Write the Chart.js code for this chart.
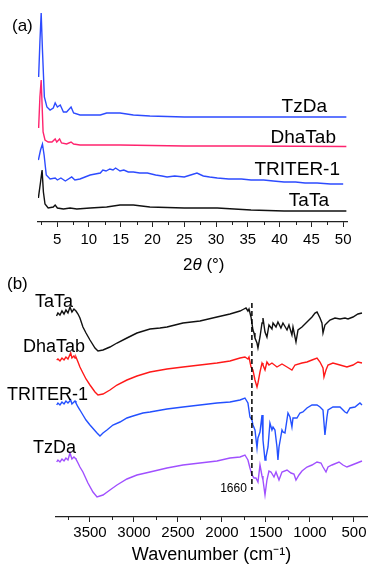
<!DOCTYPE html>
<html>
<head>
<meta charset="utf-8">
<script src="https://cdn.jsdelivr.net/npm/chart.js@4.4.0/dist/chart.umd.min.js"></script>
<style>
  html, body { margin: 0; padding: 0; background: #fff; }
  body { width: 368px; height: 567px; position: relative; overflow: hidden; }
  canvas { position: absolute; left: 0; }
  #xrd { top: 0; }
  #ftir { top: 270px; }
</style>
</head>
<body>
<canvas id="xrd" width="368" height="275"></canvas>
<canvas id="ftir" width="368" height="297"></canvas>
<script>
// (a) PXRD, stacked, intensity in a.u.
var xrdTicks = [5, 10, 15, 20, 25, 30, 35, 40, 45, 50];
var xrdMinor = [2.5, 7.5, 12.5, 17.5, 22.5, 27.5, 32.5, 37.5, 42.5, 47.5];

var tzdaXrdX = [2.1, 2.3, 2.5, 2.7, 3.0, 3.4, 3.9, 4.4, 4.7, 5.05, 5.5, 6.0, 6.5, 7.2, 7.6, 8.6, 10, 11.8, 12.8, 14.9, 17, 19.6, 25, 30, 35, 40, 45, 50.5];
var tzdaXrdY = [145, 180, 209, 172, 125, 115, 112, 114, 119, 115, 117, 110, 110, 115, 109, 107, 107, 107, 109, 109, 107, 106, 105, 105, 105, 105, 105, 105];

var dhaXrdX = [2.1, 2.3, 2.5, 2.8, 3.1, 3.6, 4.2, 4.7, 4.95, 5.4, 5.7, 6.5, 7.2, 7.6, 8.6, 14.9, 25, 35, 50.5];
var dhaXrdY = [94, 125, 142, 90, 82, 80, 80, 83, 80, 83, 79, 78, 80, 78, 77, 77, 76, 76, 75.5];

var triXrdX = [2.06, 2.4, 2.7, 2.96, 3.3, 3.9, 4.7, 5.05, 5.6, 6.3, 7.3, 7.8, 8.6, 9.4, 10.2, 11.0, 11.8, 12.2, 12.7, 13.3, 13.8, 14.2, 14.9, 15.5, 16.2, 17, 18, 19.2, 20.5, 21.5, 22.3, 23.5, 25, 26, 27, 28, 29, 30.2, 32, 34, 35.5, 37.5, 39, 40.7, 42.5, 44, 45.9, 48, 50];
var triXrdY = [62, 72, 78, 67, 47, 43, 44, 42, 44, 41, 45, 42, 43, 45, 47, 48, 49, 52, 51, 53, 52, 54, 51, 52, 50, 50, 49, 49, 47, 46, 45, 46, 45, 47, 49, 46, 45, 44, 43, 43, 42, 42, 41, 40, 40, 39, 39, 38, 38];

var tataXrdX = [2.06, 2.4, 2.64, 2.85, 3.1, 3.6, 4.4, 4.7, 5.05, 6.0, 7.05, 8.1, 10.2, 12.8, 14.9, 17, 19.6, 25, 30.2, 35.5, 40.7, 50.5];
var tataXrdY = [24, 40, 52, 30, 18, 14, 15, 17, 14, 13, 14, 13, 14, 15, 17, 17, 15, 14, 14, 12, 11, 11];

// (b) FTIR, stacked, transmittance in a.u.
var irTicks = [500, 1000, 1500, 2000, 2500, 3000, 3500];
var irMinor = [750, 1250, 1750, 2250, 2750, 3250, 3750];
var markerWn = 1660;

var tataIrX = [3880,3864,3841,3818,3795,3773,3750,3727,3705,3682,3659,3636,3614,3580,3545,3500,3443,3409,3352,3273,3193,3080,2966,2818,2705,2625,2534,2443,2250,2057,1909,1795,1750,1727,1705,1693,1670,1648,1636,1625,1602,1591,1568,1545,1534,1511,1489,1466,1432,1420,1386,1364,1330,1307,1261,1239,1205,1193,1159,1136,1091,1034,977,943,920,886,864,852,830,807,773,716,659,602,568,511,455,409];
var tataIrY = [201,204,202,206,203,207,204,210,205,208,206,203,199,190,184,177,169,166,167,170,174,179,184,188,189,190,192,194,196,200,203,206,208,209,206,208,200,187,184,179,174,169,180,194,199,185,180,192,188,194,190,195,189,194,187,192,182,190,175,187,190,195,200,204,205,199,194,184,192,194,197,199,198,199,198,200,203,204];

var dhaIrX = [3878,3864,3841,3818,3795,3773,3750,3719,3705,3682,3670,3659,3636,3614,3580,3545,3500,3443,3409,3352,3273,3193,3080,2966,2818,2625,2443,2250,2057,1909,1795,1739,1705,1693,1670,1648,1625,1602,1591,1568,1545,1534,1511,1489,1466,1432,1375,1318,1261,1205,1170,1091,1034,977,920,886,852,841,818,795,739,659,580,511,455,409];
var dhaIrY = [157,158,156,159,157,160,158,164,159,161,159,160,155,150,144,138,132,125,122,123,127,132,137,141,145,148,150,152,154,156,159,160,158,160,150,147,137,130,134,145,154,152,147,155,152,154,150,153,150,147,152,154,155,157,159,155,149,140,147,152,154,152,150,152,155,154];

var triIrX = [3878,3864,3841,3818,3795,3773,3750,3719,3705,3682,3670,3659,3636,3614,3580,3545,3500,3420,3386,3352,3307,3239,3159,3080,3011,2898,2818,2625,2443,2250,2057,1909,1795,1739,1705,1682,1659,1648,1625,1602,1591,1568,1545,1534,1511,1500,1477,1455,1432,1420,1398,1375,1364,1352,1318,1307,1284,1250,1227,1205,1193,1148,1114,1080,1034,977,920,886,852,830,807,795,739,659,602,580,545,489,432,409];
var triIrY = [112,114,112,115,113,116,114,117,113,115,116,114,110,107,102,97,92,84,81,84,87,92,95,99,101,104,105,108,110,112,114,115,117,119,114,100,97,92,87,69,79,85,102,77,57,60,70,94,87,90,87,70,57,70,87,85,84,104,100,90,99,99,104,105,109,112,112,110,107,82,100,107,110,110,105,104,109,110,114,112];

var tzdaIrX = [3878,3864,3841,3818,3795,3773,3750,3727,3705,3682,3670,3659,3636,3614,3580,3523,3466,3420,3352,3273,3193,3080,2966,2818,2625,2443,2250,2057,1909,1795,1739,1705,1682,1659,1636,1614,1591,1568,1545,1534,1511,1489,1466,1443,1409,1386,1352,1318,1261,1216,1182,1159,1125,1091,1034,977,920,875,852,818,795,750,670,625,580,523,466,409];
var tzdaIrY = [55,57,55,58,56,59,57,64,58,60,59,58,54,50,45,34,25,20,22,27,32,38,42,45,49,52,54,56,59,60,62,57,49,42,39,39,35,52,41,37,22,37,46,45,40,45,37,45,47,44,43,37,42,46,50,52,55,54,50,45,50,52,55,52,50,52,54,56];

var FONT = "'Liberation Sans', Arial, sans-serif";

function pts(xs, ys) {
  return xs.map(function (x, i) { return { x: x, y: ys[i] }; });
}

function line(label, xs, ys, color, w) {
  return { label: label, data: pts(xs, ys), borderColor: color, borderWidth: w,
           pointRadius: 0, fill: false, tension: 0 };
}

function xAxis(min, max, majors, height, pad, reverse) {
  return {
    type: 'linear', min: min, max: max, reverse: !!reverse,
    afterBuildTicks: function (s) { s.ticks = majors.map(function (v) { return { value: v }; }); },
    afterFit: function (s) { s.height = height; },
    grid: { display: true, drawOnChartArea: false, drawTicks: true, tickLength: 5, color: '#222', lineWidth: 1 },
    border: { display: true, color: '#222', width: 1.2 },
    ticks: { color: '#000', font: { family: FONT, size: 15 }, padding: pad, maxRotation: 0, autoSkip: false,
             callback: function (v) { return String(v); } }
  };
}

// minor ticks + free text
function decor(minor, texts, extra) {
  return {
    id: 'decor',
    afterDatasetsDraw: function (chart) {
      var ctx = chart.ctx, sx = chart.scales.x;
      ctx.save();
      ctx.strokeStyle = '#222';
      ctx.lineWidth = 1;
      minor.forEach(function (v) {
        var px = Math.round(sx.getPixelForValue(v)) + 0.5;
        ctx.beginPath(); ctx.moveTo(px, sx.top); ctx.lineTo(px, sx.top + 3); ctx.stroke();
      });
      if (extra) extra(chart, ctx);
      ctx.fillStyle = '#000';
      texts.forEach(function (t) {
        ctx.font = t.size + 'px ' + FONT;
        ctx.textAlign = t.align || 'left';
        ctx.textBaseline = t.base || 'alphabetic';
        ctx.fillText(t.text, t.x, t.y);
      });
      ctx.restore();
    }
  };
}

var xrdTexts = [
  { text: '(a)', x: 12, y: 26, size: 17, base: 'middle' },
  { text: 'TzDa', x: 327, y: 112, size: 19, align: 'right' },
  { text: 'DhaTab', x: 336, y: 143, size: 19, align: 'right' },
  { text: 'TRITER-1', x: 340, y: 175, size: 19, align: 'right' },
  { text: 'TaTa', x: 329, y: 206, size: 19, align: 'right' }
];

function twoTheta(chart, ctx) {
  var x = 183, y = 265;
  ctx.fillStyle = '#000';
  ctx.textBaseline = 'middle';
  ctx.textAlign = 'left';
  ctx.font = '17px ' + FONT;
  ctx.fillText('2', x, y); x += ctx.measureText('2').width;
  ctx.font = 'italic 17px ' + FONT;
  ctx.fillText('\u03b8', x, y); x += ctx.measureText('\u03b8').width;
  ctx.font = '17px ' + FONT;
  ctx.fillText(' (\u00b0)', x, y);
}

new Chart(document.getElementById('xrd'), {
  type: 'line',
  data: { datasets: [
    line('TzDa', tzdaXrdX, tzdaXrdY, 'rgb(45,75,255)', 1.4),
    line('DhaTab', dhaXrdX, dhaXrdY, 'rgb(255,35,110)', 1.4),
    line('TRITER-1', triXrdX, triXrdY, 'rgb(45,75,255)', 1.4),
    line('TaTa', tataXrdX, tataXrdY, '#111', 1.4)
  ] },
  options: {
    responsive: false, animation: false, devicePixelRatio: 1,
    layout: { padding: { top: 10, left: 38, right: 21, bottom: 0 } },
    plugins: { legend: { display: false }, tooltip: { enabled: false } },
    scales: {
      x: xAxis(2, 50.6, xrdTicks, 53, 4, false),
      y: { display: false, min: 0, max: 212 }
    }
  },
  plugins: [decor(xrdMinor, xrdTexts, twoTheta)]
});

var irTexts = [
  { text: '(b)', x: 7, y: 14, size: 17, base: 'middle' },
  { text: 'TaTa', x: 35, y: 37, size: 18 },
  { text: 'DhaTab', x: 23, y: 82, size: 18 },
  { text: 'TRITER-1', x: 7, y: 130, size: 18 },
  { text: 'TzDa', x: 33, y: 183, size: 18 }
];

function marker(chart, ctx) {
  var sx = chart.scales.x, sy = chart.scales.y;
  var px = sx.getPixelForValue(markerWn);
  ctx.save();
  ctx.strokeStyle = '#000';
  ctx.lineWidth = 1.5;
  ctx.setLineDash([5, 3]);
  ctx.beginPath();
  ctx.moveTo(px, sy.getPixelForValue(214));
  ctx.lineTo(px, sy.getPixelForValue(27));
  ctx.stroke();
  ctx.restore();
  ctx.fillStyle = '#000';
  ctx.font = '12px ' + FONT;
  ctx.textAlign = 'right';
  ctx.textBaseline = 'middle';
  ctx.fillText(String(markerWn), px - 5, sy.getPixelForValue(28));
}

var irX = xAxis(352, 3886, irTicks, 50, 2, true);
irX.title = { display: true, text: 'Wavenumber (cm\u207b\u00b9)', color: '#000',
              font: { family: FONT, size: 18 }, padding: { top: 0, bottom: 1 } };

new Chart(document.getElementById('ftir'), {
  type: 'line',
  data: { datasets: [
    line('TaTa', tataIrX, tataIrY, '#111', 1.4),
    line('DhaTab', dhaIrX, dhaIrY, 'rgb(255,25,25)', 1.4),
    line('TRITER-1', triIrX, triIrY, 'rgb(35,80,255)', 1.4),
    line('TzDa', tzdaIrX, tzdaIrY, 'rgb(160,80,255)', 1.4)
  ] },
  options: {
    responsive: false, animation: false, devicePixelRatio: 1,
    layout: { padding: { top: 17, left: 56, right: 1, bottom: 0 } },
    plugins: { legend: { display: false }, tooltip: { enabled: false } },
    scales: {
      x: irX,
      y: { display: false, min: 0, max: 230 }
    }
  },
  plugins: [decor(irMinor, irTexts, marker)]
});
</script>
</body>
</html>
